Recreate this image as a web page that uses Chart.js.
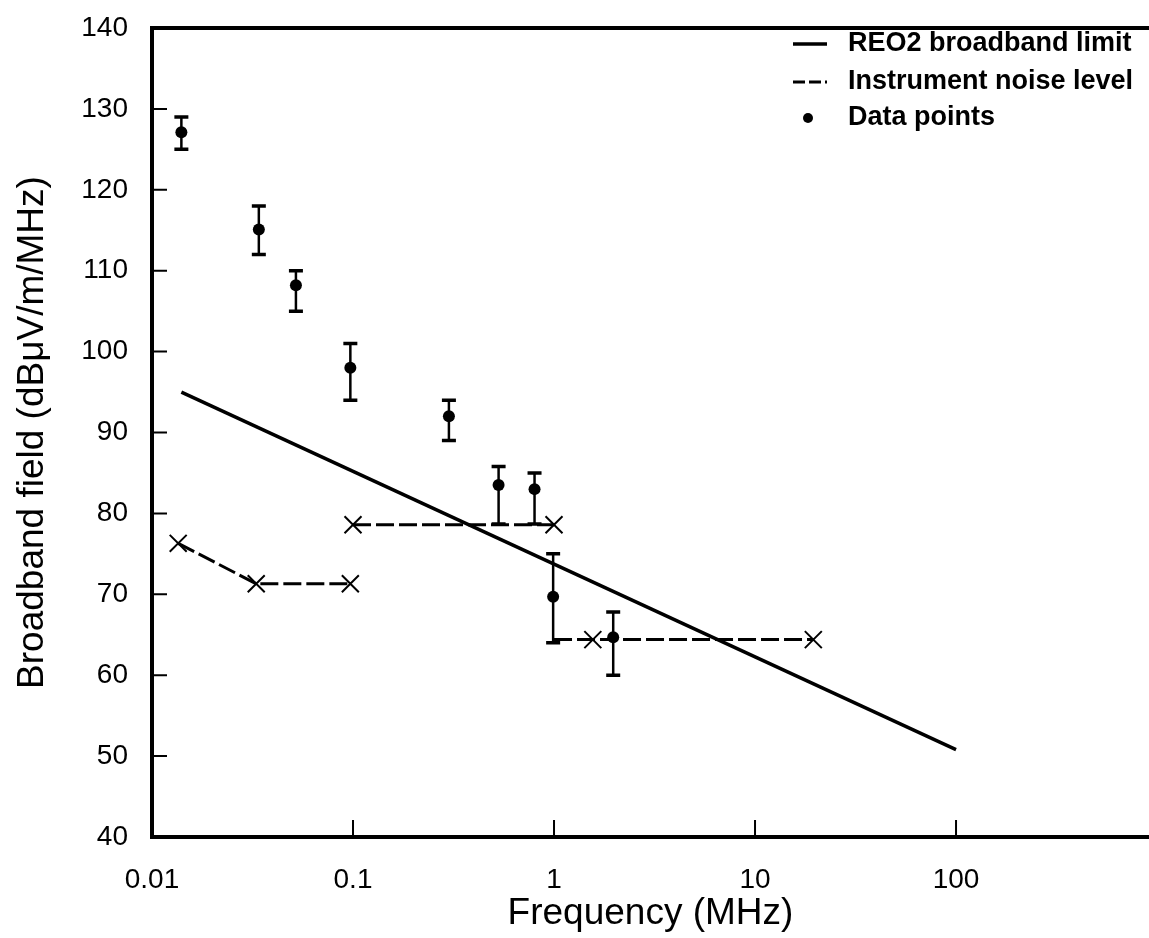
<!DOCTYPE html>
<html>
<head>
<meta charset="utf-8">
<script src="https://cdn.jsdelivr.net/npm/chart.js@4.4.1/dist/chart.umd.min.js"></script>
<style>
  html, body { margin: 0; padding: 0; background: #fff; }
  canvas { display: block; }
</style>
</head>
<body>
<canvas id="myChart" width="1149" height="938"></canvas>
<script>
// frequencies in MHz, field in dBuV/m/MHz
const pointFreqs = [0.014, 0.034, 0.052, 0.097, 0.30, 0.53, 0.80, 0.99, 1.97];
const pointField = [127.1, 115.1, 108.2, 98.0, 92.0, 83.5, 83.0, 69.7, 64.7];
const errHigh = [129.0, 118.0, 110.0, 101.0, 94.0, 85.8, 85.0, 75.0, 67.8];
const errLow = [125.0, 112.0, 105.0, 94.0, 89.0, 78.7, 78.7, 64.0, 60.0];

const limitFreqs = [0.014, 100];
const limitField = [95.0, 50.8];

const noiseFreqsA = [0.0135, 0.033, 0.097];
const noiseA = [76.3, 71.3, 71.3];
const noiseFreqsB = [0.1, 1.0];
const noiseB = [78.6, 78.6];
const noiseFreqsC = [1.0, 1.56, 19.5];
const noiseC = [64.4, 64.4, 64.4];
const noiseMarksC = [0, 12, 12];

const xTicks = [0.01, 0.1, 1, 10, 100];
const xTickLabels = ['0.01', '0.1', '1', '10', '100'];
const yTicks = [40, 50, 60, 70, 80, 90, 100, 110, 120, 130, 140];

const legendItems = ['REO2 broadband limit', 'Instrument noise level', 'Data points'];

const FONT = '"Liberation Sans", Arial, sans-serif';

function pairs(xs, ys) {
  return xs.map((x, i) => ({ x: x, y: ys[i] }));
}

function noPad(scale) {
  scale.paddingTop = 0;
  scale.paddingBottom = 0;
  scale.paddingLeft = 0;
  scale.paddingRight = 0;
}

const noiseStyle = {
  type: 'line',
  borderColor: '#000',
  borderWidth: 3,
  borderDash: [18, 5],
  pointStyle: 'crossRot',
  pointRadius: 12,
  pointBorderWidth: 2,
  pointBorderColor: '#000',
  pointBackgroundColor: '#000',
  tension: 0
};

// error bars, inward ticks, top frame and legend
const extras = {
  id: 'extras',
  afterDatasetsDraw(chart) {
    const ctx = chart.ctx;
    const xs = chart.scales.x, ys = chart.scales.y;
    const a = chart.chartArea;
    ctx.save();
    ctx.strokeStyle = '#000';
    ctx.lineCap = 'butt';

    // error bars
    pointFreqs.forEach((f, i) => {
      const px = xs.getPixelForValue(f);
      const hi = ys.getPixelForValue(errHigh[i]);
      const lo = ys.getPixelForValue(errLow[i]);
      ctx.lineWidth = 2.5;
      ctx.beginPath();
      ctx.moveTo(px, hi); ctx.lineTo(px, lo);
      ctx.stroke();
      ctx.lineWidth = 3.5;
      ctx.beginPath();
      ctx.moveTo(px - 7, hi); ctx.lineTo(px + 7, hi);
      ctx.moveTo(px - 7, lo); ctx.lineTo(px + 7, lo);
      ctx.stroke();
    });

    // top frame
    ctx.lineWidth = 4;
    ctx.beginPath();
    ctx.moveTo(a.left - 2, a.top); ctx.lineTo(a.right + 20, a.top);
    ctx.stroke();

    // inward ticks
    ctx.lineWidth = 2;
    ctx.beginPath();
    yTicks.slice(1, -1).forEach(v => {
      const py = ys.getPixelForValue(v);
      ctx.moveTo(a.left, py); ctx.lineTo(a.left + 15, py);
    });
    xTicks.slice(1).forEach(v => {
      const px = xs.getPixelForValue(v);
      ctx.moveTo(px, a.bottom); ctx.lineTo(px, a.bottom - 17);
    });
    ctx.stroke();

    // legend
    const lx = 793, lw = 34, tx = 848;
    const rows = [44, 82, 118];
    ctx.fillStyle = '#000';
    ctx.font = 'bold 27px ' + FONT;
    ctx.textBaseline = 'middle';
    ctx.textAlign = 'left';
    legendItems.forEach((t, i) => ctx.fillText(t, tx, rows[i]));
    ctx.lineWidth = 3.5;
    ctx.beginPath();
    ctx.moveTo(lx, rows[0]); ctx.lineTo(lx + lw, rows[0]);
    ctx.stroke();
    ctx.lineWidth = 3;
    ctx.setLineDash([12, 4]);
    ctx.beginPath();
    ctx.moveTo(lx, rows[1]); ctx.lineTo(lx + lw, rows[1]);
    ctx.stroke();
    ctx.setLineDash([]);
    ctx.beginPath();
    ctx.arc(lx + 15, rows[2], 5, 0, Math.PI * 2);
    ctx.fill();
    ctx.restore();
  }
};

const config = {
  type: 'line',
  data: {
    datasets: [
      {
        label: legendItems[0],
        data: pairs(limitFreqs, limitField),
        borderColor: '#000',
        borderWidth: 3.5,
        pointRadius: 0,
        tension: 0
      },
      Object.assign({ label: legendItems[1], data: pairs(noiseFreqsA, noiseA) }, noiseStyle),
      Object.assign({ label: 'noise b', data: pairs(noiseFreqsB, noiseB) }, noiseStyle),
      Object.assign({ label: 'noise c', data: pairs(noiseFreqsC, noiseC) }, noiseStyle, { pointRadius: noiseMarksC }),
      {
        label: legendItems[2],
        data: pairs(pointFreqs, pointField),
        showLine: false,
        pointRadius: 6,
        pointBackgroundColor: '#000',
        pointBorderColor: '#000',
        pointBorderWidth: 0
      }
    ]
  },
  options: {
    responsive: false,
    animation: false,
    devicePixelRatio: 1,
    layout: { autoPadding: false, padding: { top: 28, right: 0, left: 0, bottom: 0 } },
    plugins: { legend: { display: false }, tooltip: { enabled: false } },
    scales: {
      x: {
        type: 'logarithmic',
        min: 0.01,
        max: Math.pow(10, 2.96),
        afterBuildTicks(scale) {
          scale.ticks = xTicks.map(v => ({ value: v, major: true }));
        },
        afterFit(scale) { scale.height = 101; noPad(scale); },
        ticks: {
          color: '#000',
          font: { family: FONT, size: 28 },
          padding: 26,
          maxRotation: 0,
          autoSkip: false,
          callback: (v, i) => xTickLabels[i]
        },
        grid: { display: false, drawTicks: false },
        border: { display: true, width: 4, color: '#000' },
        title: {
          display: true,
          text: 'Frequency (MHz)',
          color: '#000',
          font: { family: FONT, size: 37 },
          padding: { top: 0, bottom: 2 }
        }
      },
      y: {
        min: 40,
        max: 140,
        afterBuildTicks(scale) {
          scale.ticks = yTicks.map(v => ({ value: v }));
        },
        afterFit(scale) { scale.width = 152; noPad(scale); },
        ticks: {
          color: '#000',
          font: { family: FONT, size: 28 },
          padding: 24
        },
        grid: { display: false, drawTicks: false },
        border: { display: true, width: 4, color: '#000' },
        title: {
          display: true,
          text: 'Broadband field (dBμV/m/MHz)',
          color: '#000',
          font: { family: FONT, size: 37 },
          padding: { top: 11, bottom: 0 }
        }
      }
    }
  },
  plugins: [extras]
};

const myChart = new Chart(document.getElementById('myChart'), config);
</script>
</body>
</html>
